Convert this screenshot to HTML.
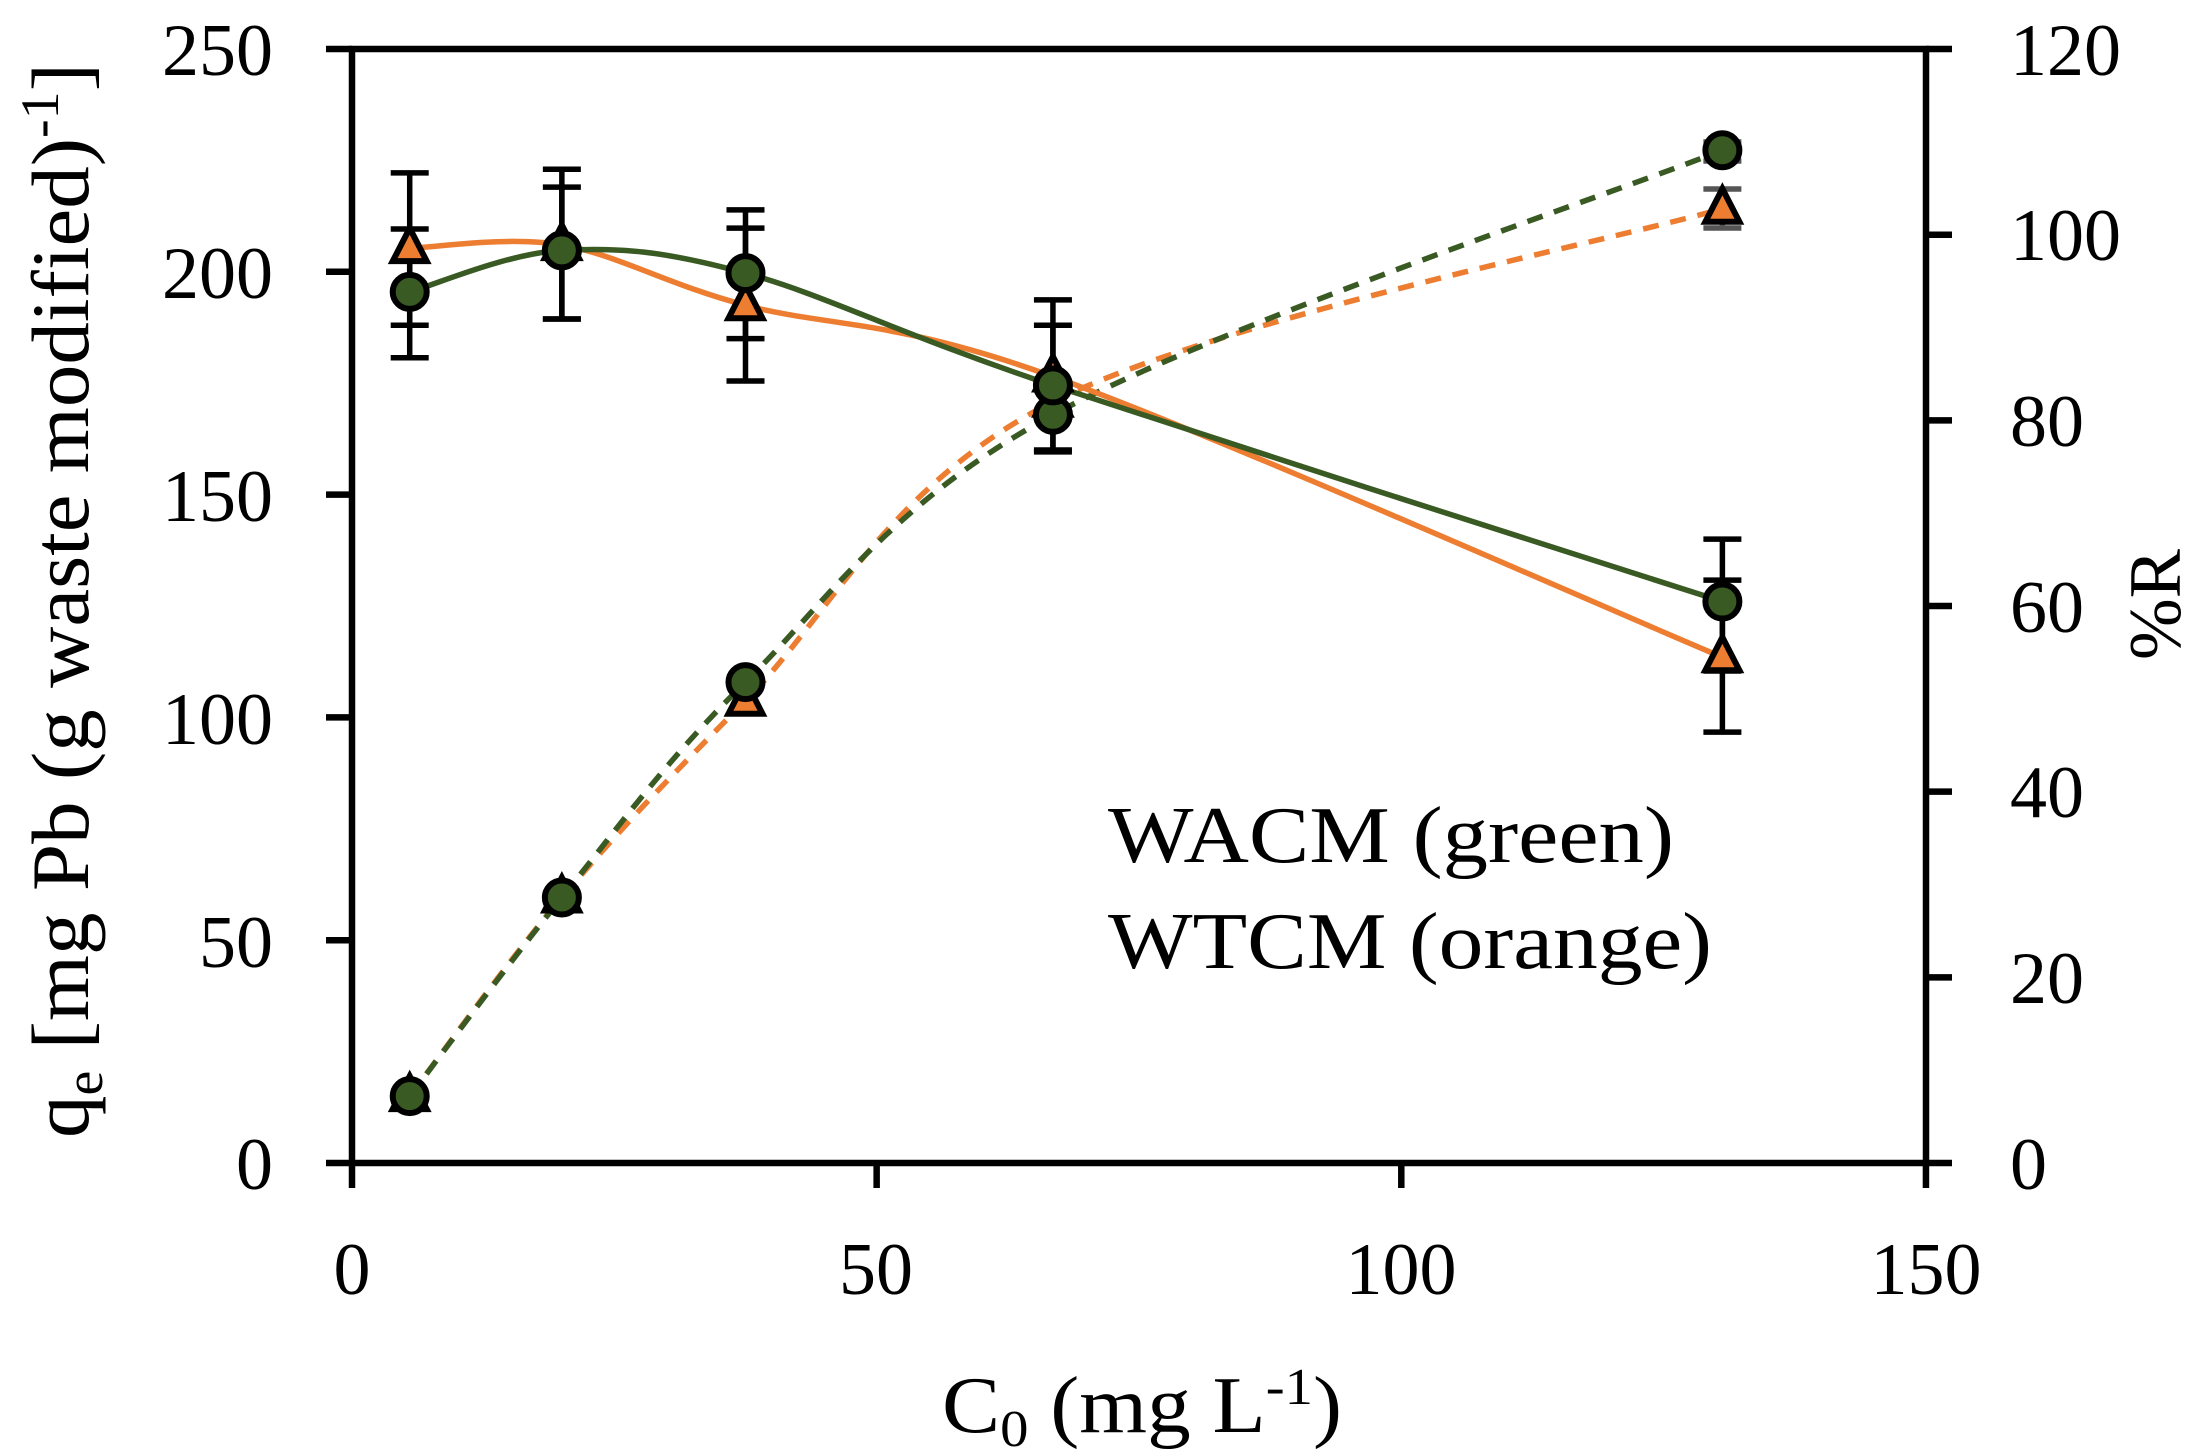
<!DOCTYPE html>
<html><head><meta charset="utf-8"><style>html,body{margin:0;padding:0;background:#fff}svg{display:block}</style></head>
<body>
<svg id="s" width="2185" height="1454" xmlns="http://www.w3.org/2000/svg" font-family="'Liberation Serif', serif">
<g id="plot"></g>
<g font-size="74" fill="#000">
<text x="273" y="75" text-anchor="end">250</text>
<text x="273" y="298" text-anchor="end">200</text>
<text x="273" y="521" text-anchor="end">150</text>
<text x="273" y="744" text-anchor="end">100</text>
<text x="273" y="967" text-anchor="end">50</text>
<text x="273" y="1189" text-anchor="end">0</text>
<text x="2010" y="75">120</text>
<text x="2010" y="260">100</text>
<text x="2010" y="446">80</text>
<text x="2010" y="632">60</text>
<text x="2010" y="817">40</text>
<text x="2010" y="1003">20</text>
<text x="2010" y="1189">0</text>
<text x="352" y="1294" text-anchor="middle">0</text>
<text x="876" y="1294" text-anchor="middle">50</text>
<text x="1401" y="1294" text-anchor="middle">100</text>
<text x="1926" y="1294" text-anchor="middle">150</text>
</g>
<text font-size="80" x="1108" y="862" textLength="566" lengthAdjust="spacingAndGlyphs">WACM (green)</text>
<text font-size="80" x="1108" y="968" textLength="604" lengthAdjust="spacingAndGlyphs">WTCM (orange)</text>
<text font-size="80" x="942" y="1432" textLength="400" lengthAdjust="spacingAndGlyphs">C<tspan font-size="52" dy="14">0</tspan><tspan dy="-14"> (mg L</tspan><tspan font-size="52" dy="-28">-1</tspan><tspan dy="28">)</tspan></text>
<text font-size="82" transform="translate(88,1138) rotate(-90)" textLength="1075" lengthAdjust="spacingAndGlyphs">q<tspan font-size="54" dy="14">e</tspan><tspan dy="-14"> [mg Pb (g waste modified)</tspan><tspan font-size="54" dy="-30">-1</tspan><tspan dy="30">]</tspan></text>
<text font-size="74" transform="translate(2180,660) rotate(-90)">%R</text>
</svg>
<script>
const X=v=>352+v*10.493, YL=v=>1163-v*4.456, YR=v=>1163-v*9.283;
const xs=[5.5,20,37.5,66.8,130.6];
const G='#3a5a23', O='#ED7D31';
const gq=[195.5,204.8,199.7,174.5,126], oq=[205.3,206,192.5,176.5,113.5];
const gr=[7.2,28.6,51.8,80.6,109.1], orr=[7.2,28.6,49.8,82,102.8];
function path(pts){let d=`M${pts[0][0]},${pts[0][1]}`;for(let i=0;i<pts.length-1;i++){const p0=pts[Math.max(i-1,0)],p1=pts[i],p2=pts[i+1],p3=pts[Math.min(i+2,pts.length-1)];const t=1/6;d+=` C${p1[0]+(p2[0]-p0[0])*t},${p1[1]+(p2[1]-p0[1])*t} ${p2[0]-(p3[0]-p1[0])*t},${p2[1]-(p3[1]-p1[1])*t} ${p2[0]},${p2[1]}`;}return d;}
let h='';
const ln=(vals,Y,c,dash)=>`<path d="${path(xs.map((x,i)=>[X(x),Y(vals[i])]))}" fill="none" stroke="${c}" stroke-width="5.5" ${dash?'stroke-dasharray="16 12"':''}/>`;
h+=ln(orr,YR,O,1)+ln(gr,YR,G,1)+ln(oq,YL,O,0)+ln(gq,YL,G,0);
const eb=(x,a,b,c)=>{const px=X(x);return `<g stroke="${c||'#000'}" stroke-width="5.5"><line x1="${px}" y1="${a}" x2="${px}" y2="${b}"/><line x1="${px-19}" y1="${a}" x2="${px+19}" y2="${a}"/><line x1="${px-19}" y1="${b}" x2="${px+19}" y2="${b}"/></g>`};
const circ=(x,y)=>`<circle cx="${X(x)}" cy="${y}" r="17" fill="${G}" stroke="#000" stroke-width="6"/>`;
const tri=(x,y)=>{const px=X(x);return `<polygon points="${px},${y-20} ${px-17},${y+13} ${px+17},${y+13}" fill="${O}" stroke="#000" stroke-width="6" stroke-linejoin="miter"/>`};
h+=eb(130.6,142,161,'#555')+eb(130.6,189,228,'#555');
h+=eb(5.5,YL(222.2),YL(188))+eb(5.5,YL(209.6),YL(180.7));
h+=eb(20,YL(223),YL(189.4))+eb(20,YL(219),YL(189.4));
h+=eb(37.5,YL(213.9),YL(185))+eb(37.5,YL(209.8),YL(175.5));
h+=eb(66.8,YL(193.7),YL(159.6))+eb(66.8,YL(188),YL(160));
h+=eb(130.6,YL(140),YL(110.4))+eb(130.6,YL(130.8),YL(96.7));
xs.forEach((x,i)=>{h+=tri(x,YR(orr[i]));});
xs.forEach((x,i)=>{h+=circ(x,YR(gr[i]));});
xs.forEach((x,i)=>{h+=tri(x,YL(oq[i]));});
xs.forEach((x,i)=>{h+=circ(x,YL(gq[i]));});
h+=`<rect x="352" y="49" width="1574" height="1114" fill="none" stroke="#000" stroke-width="6.5"/>`;
let t='';
for(let v=0;v<=250;v+=50)t+=`<line x1="326" x2="352" y1="${YL(v)}" y2="${YL(v)}"/>`;
for(let v=0;v<=120;v+=20)t+=`<line x1="1926" x2="1952" y1="${YR(v)}" y2="${YR(v)}"/>`;
for(let v=0;v<=150;v+=50)t+=`<line x1="${X(v)}" x2="${X(v)}" y1="1163" y2="1188"/>`;
h+=`<g stroke="#000" stroke-width="6.5">${t}</g>`;
document.getElementById('plot').innerHTML=h;
</script>
</body></html>
